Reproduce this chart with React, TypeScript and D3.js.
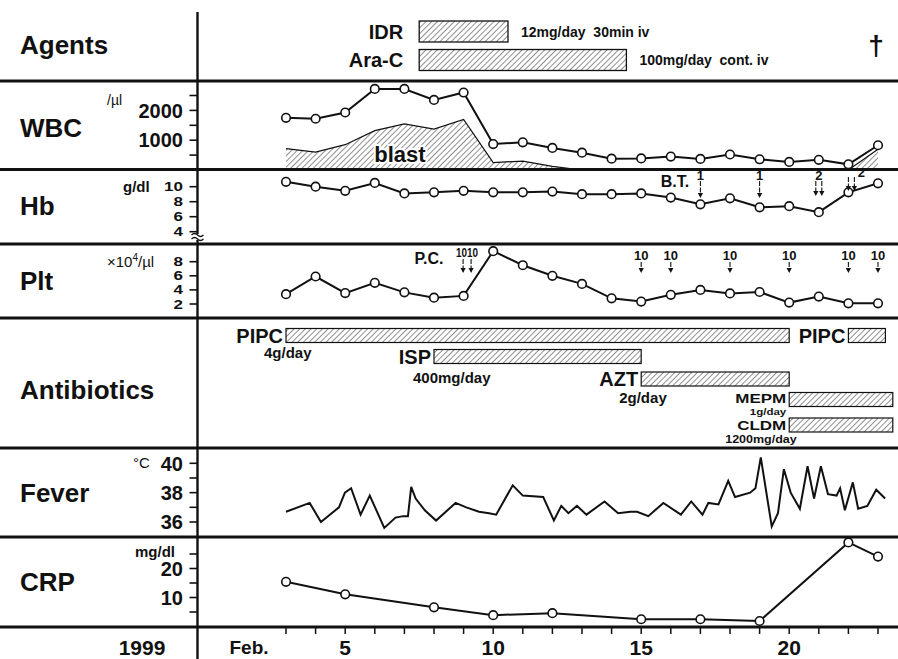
import React from 'react'
import * as d3 from 'd3'

// days of Feb. 1999 with daily samples
const days = [3, 4, 5, 6, 7, 8, 9, 10, 11, 12, 13, 14, 15, 16, 17, 18, 19, 20, 21, 22, 23]
const dayLabels = [5, 10, 15, 20]

const wbc = [1750, 1720, 1930, 2720, 2720, 2350, 2600, 870, 930, 740, 580, 380, 390, 450, 370, 520, 360, 270, 340, 190, 830]
const blast = [720, 600, 850, 1320, 1550, 1370, 1700, 250, 300, 120, 0, 0, 0, 0, 0, 0, 0, 0, 0, 0, 700]
const hb = [10.65, 10.0, 9.45, 10.5, 9.1, 9.25, 9.45, 9.25, 9.25, 9.35, 9.0, 9.0, 9.1, 8.55, 7.65, 8.45, 7.25, 7.4, 6.6, 9.25, 10.45]
const plt = [3.4, 5.9, 3.55, 5.0, 3.65, 2.9, 3.15, 9.5, 7.5, 6.0, 4.85, 2.8, 2.35, 3.3, 4.0, 3.5, 3.7, 2.2, 3.05, 2.1, 2.1]

const feverDays = [3.0, 3.8, 4.18, 4.79, 4.99, 5.2, 5.52, 5.83, 6.32, 6.7, 6.96, 7.12, 7.23, 7.38, 7.69, 8.07, 8.73, 9.09, 9.52, 9.86, 10.1, 10.66, 11.0, 11.69, 12.05, 12.3, 12.54, 12.83, 13.15, 13.76, 14.22, 14.63, 14.86, 15.24, 15.75, 16.34, 16.69, 17.07, 17.27, 17.61, 17.94, 18.17, 18.68, 18.86, 19.04, 19.41, 19.62, 19.82, 20.05, 20.36, 20.62, 20.84, 21.07, 21.31, 21.6, 21.72, 21.88, 22.15, 22.33, 22.64, 22.94, 23.24]
const feverTemps = [36.7, 37.3, 36.0, 37.0, 38.0, 38.3, 36.5, 37.8, 35.6, 36.3, 36.4, 36.4, 38.4, 37.6, 36.8, 36.1, 37.3, 37.0, 36.7, 36.6, 36.5, 38.5, 37.8, 37.7, 36.1, 37.1, 36.6, 37.1, 36.5, 37.4, 36.6, 36.7, 36.7, 36.4, 37.3, 36.5, 37.4, 36.5, 37.3, 37.2, 38.8, 37.7, 38.0, 38.3, 40.4, 35.7, 36.6, 39.6, 38.0, 36.9, 39.8, 37.6, 39.8, 37.9, 37.8, 38.3, 36.8, 38.7, 36.9, 37.1, 38.2, 37.6]

const crpDays = [3, 5, 8, 10, 12, 15, 17, 19, 22, 23]
const crp = [15.4, 11.1, 6.6, 3.9, 4.6, 2.5, 2.5, 1.9, 29.0, 24.1]

const agentNames = ['IDR', 'Ara-C']
const agentStart = [7.5, 7.5]
const agentEnd = [10.5, 14.5]
const agentDose = ['12mg/day  30min iv', '100mg/day  cont. iv']

const abNames = ['PIPC', 'ISP', 'AZT', 'MEPM', 'CLDM', 'PIPC']
const abStart = [3, 8, 15, 20, 20, 22]
const abEnd = [20, 15, 20, 23.5, 23.5, 23.25]
const abDose = ['4g/day', '400mg/day', '2g/day', '1g/day', '1200mg/day', '']
const abRow = [0, 1, 2, 3, 4, 0]

const btDays = [17, 19, 21, 22]
const btUnits = ['1', '1', '2', '2']
const btCount = [1, 1, 2, 2]
const pcDays = [9, 15, 16, 18, 20, 22, 23]
const pcUnits = ['1010', '10', '10', '10', '10', '10', '10']
const pcCount = [2, 1, 1, 1, 1, 1, 1]

const W = 898
const H = 659
const FONT = "'Liberation Sans', Arial, Helvetica, sans-serif"

const x = d3.scaleLinear().domain([3, 23]).range([286, 878])
const yWbc = d3.scaleLinear().domain([0, 2500]).range([170, 95.5])
const yHb = d3.scaleLinear().domain([4, 10]).range([231.7, 186.7])
const yPlt = d3.scaleLinear().domain([2, 8]).range([304, 261.7])
const yFev = d3.scaleLinear().domain([36, 40]).range([522, 463.3])
const yCrp = d3.scaleLinear().domain([0, 20]).range([626.5, 568.5])

const panelLines = [81, 169.5, 244, 318, 448, 537, 627]
const AXIS_X = 197.5

const Dots = ({ xs, ys }: { xs: number[]; ys: number[] }) => (
  <g>
    {xs.map((v, i) => (
      <circle key={i} cx={v} cy={ys[i]} r={4.3} fill="#fff" stroke="#111" strokeWidth={1.6} />
    ))}
  </g>
)

// squash < 1 compresses a label vertically (tightly stacked labels in the original)
const Label = ({ x0, y0, size, squash = 1, anchor = 'start', children }: any) => (
  <text transform={`translate(${x0},${y0}) scale(1,${squash})`} dy="0.36em" textAnchor={anchor} fontSize={size} fontWeight="bold">
    {children}
  </text>
)

const Ticks = ({ scale, values, labels, size, squash = 1 }: any) => (
  <g>
    {values.map((v: number, i: number) => (
      <g key={i}>
        <line x1={AXIS_X - 8} x2={AXIS_X} y1={scale(v)} y2={scale(v)} stroke="#111" strokeWidth={1.6} />
        {labels && labels[i] ? (
          <Label x0={183} y0={scale(v)} size={size} squash={squash} anchor="end">{labels[i]}</Label>
        ) : null}
      </g>
    ))}
  </g>
)

const Arrow = ({ cx, y1, y2 }: { cx: number; y1: number; y2: number }) => (
  <g>
    <line x1={cx} x2={cx} y1={y1} y2={y2 - 4} stroke="#111" strokeWidth={1.1} strokeDasharray="5,1.5" />
    <path d={`M${cx - 2.6},${y2 - 5} L${cx + 2.6},${y2 - 5} L${cx},${y2} Z`} fill="#111" />
  </g>
)

export default function App() {
  const lineWbc = d3.line<number>().x((_, i) => x(days[i])).y(d => yWbc(d))
  const areaBlast = d3.area<number>().x((_, i) => x(days[i])).y0(yWbc(0)).y1(d => yWbc(d))
  const lineBlast = d3.line<number>().x((_, i) => x(days[i])).y(d => yWbc(d))
  const lineHb = d3.line<number>().x((_, i) => x(days[i])).y(d => yHb(d))
  const linePlt = d3.line<number>().x((_, i) => x(days[i])).y(d => yPlt(d))
  const lineFev = d3.line<number>().x((_, i) => x(feverDays[i])).y(d => yFev(d))
  const lineCrp = d3.line<number>().x((_, i) => x(crpDays[i])).y(d => yCrp(d))

  const abRowY = [335.5, 356.5, 379, 399.5, 425]
  const abBarH = 14
  // per antibiotic: name size/offset, dose size, dose [dx from bar start, dy below row centre, anchor], vertical squash
  const nameSize = [20, 20, 20, 17, 17, 20]
  const nameDy = [0, 0, 0, -1.5, 0, 0]
  const doseSize = [15, 15, 15, 11.5, 12.5, 15]
  const doseLayout: [number, number, string][] = [
    [-22, 17, 'start'], [-21, 21, 'start'], [-22, 19, 'start'], [-3, 12, 'end'], [-64, 14, 'start'], [0, 0, 'start']
  ]
  const squash = [1, 1, 1, 0.8, 0.8, 1]
  const agentY = [31.5, 60]
  const titles = [
    ['Agents', 45], ['WBC', 128], ['Hb', 206], ['Plt', 281], ['Antibiotics', 390], ['Fever', 493], ['CRP', 582]
  ] as [string, number][]

  return (
    <svg width={W} height={H} style={{ position: 'absolute', left: 0, top: 0, background: '#fff' }} fontFamily={FONT} fill="#111">
      <defs>
        <pattern id="hatch" width={4} height={4} patternUnits="userSpaceOnUse" patternTransform="rotate(45)">
          <line x1={0} y1={0} x2={0} y2={4} stroke="#222" strokeWidth={1} />
        </pattern>
      </defs>
      <rect width={W} height={H} fill="#fff" />

      {titles.map(([t, y]) => (
        <text key={t} x={20} y={y} dy="0.36em" fontSize={26} fontWeight="bold">{t}</text>
      ))}

      {/* agents */}
      {agentNames.map((n, i) => (
        <g key={n}>
          <text x={x(agentStart[i]) - 16} y={agentY[i]} dy="0.36em" textAnchor="end" fontSize={20} fontWeight="bold">{n}</text>
          <rect x={x(agentStart[i])} y={agentY[i] - 10.5} width={x(agentEnd[i]) - x(agentStart[i])} height={21}
            fill="url(#hatch)" stroke="#111" strokeWidth={1.3} />
          <text x={x(agentEnd[i]) + 13} y={agentY[i]} dy="0.36em" fontSize={14} fontWeight="bold" xmlSpace="preserve">{agentDose[i]}</text>
        </g>
      ))}
      <text x={876} y={45} dy="0.36em" textAnchor="middle" fontSize={28} fontWeight="bold">†</text>

      {/* WBC */}
      <Ticks scale={yWbc} values={[2500, 2000, 1500, 1000, 500]} labels={['', '2000', '', '1000', '']} size={20} />
      <text x={107} y={100} dy="0.36em" fontSize={14}>/µl</text>
      <path d={areaBlast(blast) || ''} fill="url(#hatch)" />
      <path d={lineBlast(blast) || ''} fill="none" stroke="#111" strokeWidth={1.2} />
      <text x={400} y={154} dy="0.36em" textAnchor="middle" fontSize={22} fontWeight="bold"
        stroke="#fff" strokeWidth={4} paintOrder="stroke">blast</text>
      <path d={lineWbc(wbc) || ''} fill="none" stroke="#111" strokeWidth={2} />
      <Dots xs={days.map(d => x(d))} ys={wbc.map(v => yWbc(v))} />

      {/* Hb */}
      <Ticks scale={yHb} values={[10, 8, 6, 4]} labels={['10', '8', '6', '4']} size={17} squash={0.76} />
      <text x={123} y={187} dy="0.36em" fontSize={15} fontWeight="bold">g/dl</text>
      <path d={lineHb(hb) || ''} fill="none" stroke="#111" strokeWidth={2} />
      <Dots xs={days.map(d => x(d))} ys={hb.map(v => yHb(v))} />
      <text x={675} y={181} dy="0.36em" textAnchor="middle" fontSize={16} fontWeight="bold">B.T.</text>
      {btDays.map((d, i) => {
        const cx = x(d) + (i === 3 ? 3 : 0)
        const pairs = btCount[i] === 2 ? [cx - 3, cx + 3] : [cx]
        const tip = i === 3 ? 191 : i === 2 ? 196 : 198
        return (
          <g key={i}>
            {pairs.map((p, j) => <Arrow key={j} cx={p} y1={i === 3 ? 177 : 181} y2={tip} />)}
            <text x={i === 3 ? cx + 10 : cx} y={i === 3 ? 172 : 175} dy="0.36em" textAnchor="middle" fontSize={13} fontWeight="bold">{btUnits[i]}</text>
          </g>
        )
      })}

      {/* Plt */}
      <Ticks scale={yPlt} values={[8, 6, 4, 2]} labels={['8', '6', '4', '2']} size={17} squash={0.74} />
      <text x={107} y={262} dy="0.36em" fontSize={15}>×10<tspan dy={-6} fontSize={10}>4</tspan><tspan dy={6}>/µl</tspan></text>
      <path d={linePlt(plt) || ''} fill="none" stroke="#111" strokeWidth={2} />
      <Dots xs={days.map(d => x(d))} ys={plt.map(v => yPlt(v))} />
      <text x={429} y={258} dy="0.36em" textAnchor="middle" fontSize={16} fontWeight="bold">P.C.</text>
      {pcDays.map((d, i) => {
        const cx = x(d) + (pcCount[i] === 2 ? 3.5 : 0)
        const pairs = pcCount[i] === 2 ? [cx - 4, cx + 4] : [cx]
        return (
          <g key={i}>
            {pairs.map((p, j) => <Arrow key={j} cx={p} y1={pcCount[i] === 2 ? 259 : 262} y2={273} />)}
            <text x={cx} y={pcCount[i] === 2 ? 252 : 255} dy="0.36em" textAnchor="middle" fontSize={13} fontWeight="bold"
              textLength={pcCount[i] === 2 ? 22 : undefined} lengthAdjust="spacingAndGlyphs">{pcUnits[i]}</text>
          </g>
        )
      })}

      {/* antibiotics */}
      {abNames.map((n, i) => {
        const y0 = abRowY[abRow[i]]
        const [dx, dy, anchor] = doseLayout[i]
        return (
          <g key={i}>
            <Label x0={x(abStart[i]) - 3} y0={y0 + nameDy[i]} size={nameSize[i]} squash={squash[i]} anchor="end">{n}</Label>
            <rect x={x(abStart[i])} y={y0 - abBarH / 2} width={x(abEnd[i]) - x(abStart[i])} height={abBarH}
              fill="url(#hatch)" stroke="#111" strokeWidth={1.2} />
            {abDose[i] ? (
              <Label x0={x(abStart[i]) + dx} y0={y0 + dy} size={doseSize[i]} squash={squash[i] === 1 ? 1 : 0.85} anchor={anchor}>
                {abDose[i]}
              </Label>
            ) : null}
          </g>
        )
      })}

      {/* fever */}
      <Ticks scale={yFev} values={[40, 39, 38, 37, 36]} labels={['40', '', '38', '', '36']} size={20} />
      <text x={133} y={463} dy="0.36em" fontSize={15}>°C</text>
      <path d={lineFev(feverTemps) || ''} fill="none" stroke="#111" strokeWidth={2} />

      {/* CRP */}
      <Ticks scale={yCrp} values={[25, 20, 15, 10, 5]} labels={['', '20', '', '10', '']} size={20} />
      <text x={135} y={552} dy="0.36em" fontSize={15} fontWeight="bold">mg/dl</text>
      <path d={lineCrp(crp) || ''} fill="none" stroke="#111" strokeWidth={2} />
      <Dots xs={crpDays.map(d => x(d))} ys={crp.map(v => yCrp(v))} />

      {/* time axis */}
      {days.map(d => (
        <line key={d} x1={x(d)} x2={x(d)} y1={627} y2={634} stroke="#111" strokeWidth={1.5} />
      ))}
      {dayLabels.map(d => (
        <text key={d} x={x(d)} y={647} dy="0.36em" textAnchor="middle" fontSize={21} fontWeight="bold">{d}</text>
      ))}
      <text x={249} y={647} dy="0.36em" textAnchor="middle" fontSize={19} fontWeight="bold">Feb.</text>
      <text x={142} y={647} dy="0.36em" textAnchor="middle" fontSize={21} fontWeight="bold">1999</text>

      {/* frame drawn last so panel rules sit over the data */}
      {panelLines.map((y, i) => (
        <line key={i} x1={0} x2={W} y1={y} y2={y} stroke="#111" strokeWidth={3} />
      ))}
      <line x1={AXIS_X} x2={AXIS_X} y1={12} y2={H} stroke="#111" strokeWidth={2.4} />
      <rect x={AXIS_X - 3} y={234} width={6} height={6} fill="#fff" />
      <path d={`M${AXIS_X - 6},${235} q3,-3 6,0 t6,0 M${AXIS_X - 6},${239} q3,-3 6,0 t6,0`} fill="none" stroke="#111" strokeWidth={1.3} />
    </svg>
  )
}
